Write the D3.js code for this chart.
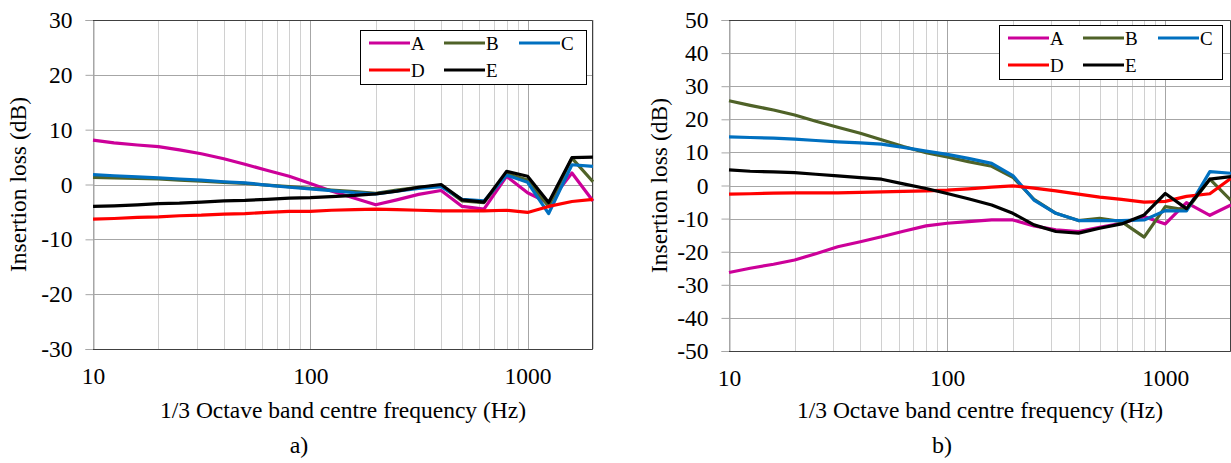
<!DOCTYPE html>
<html>
<head>
<meta charset="utf-8">
<style>
  body {
    margin: 0;
    background-color: #ffffff;
  }
</style>
  <script src="https://d3js.org/d3.v7.min.js"></script>
</head>
<body>
<script>
  // 1/3 octave band centre frequencies (Hz)
  const freqs = [10, 12.5, 16, 20, 25, 31.5, 40, 50, 63, 80, 100, 125, 160, 200,
    250, 315, 400, 500, 630, 800, 1000, 1250, 1600, 2000];

  const seriesNames = ['A', 'B', 'C', 'D', 'E'];

  // panel a) insertion loss (dB)
  const aA = [8.1, 7.6, 7.2, 6.9, 6.3, 5.6, 4.7, 3.7, 2.6, 1.5, 0.2, -1.2, -2.5, -3.7,
    -2.8, -1.8, -1.1, -4.0, -4.5, 1.5, -1.5, -3.4, 2.1, -3.0];
  const aB = [1.3, 1.2, 1.1, 1.0, 0.8, 0.6, 0.4, 0.2, -0.1, -0.4, -0.7, -1.0, -1.3, -1.6,
    -1.0, -0.5, -0.2, -3.0, -3.3, 2.0, 0.8, -4.0, 4.8, 0.5];
  const aC = [1.8, 1.6, 1.4, 1.2, 1.0, 0.8, 0.5, 0.3, -0.1, -0.5, -0.8, -1.1, -1.5, -1.7,
    -1.2, -0.7, -0.4, -2.7, -3.0, 1.7, 0.4, -5.3, 3.6, 3.3];
  const aD = [-6.3, -6.2, -6.0, -5.9, -5.7, -5.6, -5.4, -5.3, -5.1, -4.9, -4.9, -4.7, -4.6, -4.5,
    -4.6, -4.7, -4.8, -4.8, -4.8, -4.7, -5.1, -4.0, -3.1, -2.7];
  const aE = [-4.0, -3.9, -3.7, -3.5, -3.4, -3.2, -3.0, -2.9, -2.7, -2.5, -2.4, -2.2, -2.0, -1.7,
    -1.2, -0.5, 0.0, -2.8, -3.2, 2.4, 1.5, -3.3, 4.9, 5.0];

  // panel b) insertion loss (dB)
  const bA = [-26.3, -25.0, -23.8, -22.5, -20.6, -18.5, -17.0, -15.5, -13.8, -12.2, -11.4, -10.9, -10.4, -10.4,
    -12.2, -13.4, -13.9, -12.6, -11.4, -9.4, -11.6, -5.2, -9.0, -5.9];
  const bB = [25.6, 24.2, 22.8, 21.3, 19.4, 17.6, 15.8, 13.8, 11.8, 9.9, 8.6, 7.2, 5.8, 2.5,
    -4.2, -8.4, -10.6, -9.9, -10.9, -15.6, -6.4, -7.4, 1.9, -4.5];
  const bC = [14.7, 14.5, 14.3, 14.0, 13.6, 13.2, 12.9, 12.5, 11.5, 10.4, 9.4, 8.2, 6.7, 3.0,
    -4.4, -8.4, -10.6, -10.6, -10.6, -10.4, -7.6, -7.7, 4.2, 3.7];
  const bD = [-2.6, -2.5, -2.3, -2.2, -2.2, -2.2, -2.1, -1.9, -1.8, -1.6, -1.4, -1.0, -0.5, -0.1,
    -0.8, -1.6, -2.6, -3.5, -4.2, -5.0, -4.8, -3.3, -2.5, 2.2];
  const bE = [4.7, 4.3, 4.1, 3.9, 3.4, 2.9, 2.4, 1.9, 0.5, -0.9, -2.4, -4.0, -5.9, -8.4,
    -11.9, -13.9, -14.4, -12.9, -11.6, -8.9, -2.4, -7.0, 1.9, 2.7];

  const xTicks = [10, 100, 1000];
  const aYTicks = [-30, -20, -10, 0, 10, 20, 30];
  const bYTicks = [-50, -40, -30, -20, -10, 0, 10, 20, 30, 40, 50];

  const colors = {
    A: '#CC0099',
    B: '#4F6228',
    C: '#0070C0',
    D: '#FF0000',
    E: '#000000',
  };

  const FONT = 'Liberation Serif';
  const FONT_SIZE = 23.5;

  const svg = d3.select('body')
    .append('svg')
    .attr('width', 1231)
    .attr('height', 463);

  // gridline frequencies: 10..90, 100..900, 1000, 2000
  const gridFreqs = [];
  [10, 100, 1000].forEach(dec => {
    for (let k = 1; k <= 9; k++) {
      if (dec * k <= 2000) gridFreqs.push(dec * k);
    }
  });

  const drawPanel = (cfg) => {
    const { left, right, top, bottom, yDomain, yTicks, data, legend, ytitleX, label } = cfg;

    const x = d3.scaleLog().domain([10, 2000]).range([left, right]);
    const y = d3.scaleLinear().domain(yDomain).range([bottom, top]);

    const g = svg.append('g');

    // vertical grid
    g.selectAll('.vgrid')
      .data(gridFreqs)
      .enter()
      .append('line')
      .attr('x1', d => Math.round(x(d)) + 0.5)
      .attr('x2', d => Math.round(x(d)) + 0.5)
      .attr('y1', top)
      .attr('y2', bottom)
      .attr('stroke', d => xTicks.includes(d) ? '#a6a6a6' : '#d0d0d0')
      .attr('stroke-width', 1);

    // horizontal grid
    g.selectAll('.hgrid')
      .data(yTicks)
      .enter()
      .append('line')
      .attr('x1', left)
      .attr('x2', right)
      .attr('y1', d => Math.round(y(d)) + 0.5)
      .attr('y2', d => Math.round(y(d)) + 0.5)
      .attr('stroke', '#a6a6a6')
      .attr('stroke-width', 1);

    // y axis with outward ticks
    const yAxis = d3.axisLeft(y)
      .tickValues(yTicks)
      .tickSize(8)
      .tickPadding(13)
      .tickFormat(d => String(d));

    const ya = g.append('g')
      .attr('transform', `translate(${left + 0.5},0)`)
      .call(yAxis);
    ya.select('.domain').attr('stroke', '#a6a6a6');
    ya.selectAll('.tick line').attr('stroke', '#a6a6a6');
    ya.selectAll('.tick text')
      .attr('font-family', FONT)
      .attr('font-size', FONT_SIZE)
      .attr('fill', '#000');

    // x axis labels only
    const xAxis = d3.axisBottom(x)
      .tickValues(xTicks)
      .tickSize(0)
      .tickFormat(d => String(d));

    const xa = g.append('g')
      .attr('transform', `translate(0,${bottom})`)
      .call(xAxis);
    xa.select('.domain').remove();
    xa.selectAll('.tick text')
      .attr('y', 35)
      .attr('dy', null)
      .attr('font-family', FONT)
      .attr('font-size', FONT_SIZE)
      .attr('fill', '#000');

    // plot frame: top, right, bottom
    g.append('path')
      .attr('d', `M${left},${top + 0.5}H${right - 0.5}V${bottom + 0.5}H${left}`)
      .attr('fill', 'none')
      .attr('stroke', '#404040')
      .attr('stroke-width', 1);

    // series lines
    const line = d3.line()
      .x((d, i) => x(freqs[i]))
      .y(d => y(d));

    seriesNames.forEach((name, si) => {
      g.append('path')
        .datum(data[si])
        .attr('d', line)
        .attr('fill', 'none')
        .attr('stroke', colors[name])
        .attr('stroke-width', 3.2)
        .attr('stroke-linejoin', 'round');
    });

    // legend
    const lg = g.append('g');
    lg.append('rect')
      .attr('x', legend.x + 0.5)
      .attr('y', legend.y + 0.5)
      .attr('width', legend.w)
      .attr('height', legend.h)
      .attr('fill', '#fff')
      .attr('stroke', '#000')
      .attr('stroke-width', 1);

    seriesNames.forEach((name, i) => {
      const col = i % 3;
      const row = Math.floor(i / 3);
      const lx = legend.x + 9 + col * 75;
      const ly = legend.y + 13 + row * 27;
      lg.append('line')
        .attr('x1', lx)
        .attr('x2', lx + 41)
        .attr('y1', ly)
        .attr('y2', ly)
        .attr('stroke', colors[name])
        .attr('stroke-width', 3.2);
      lg.append('text')
        .attr('x', lx + 42)
        .attr('y', ly + 6.5)
        .attr('font-family', FONT)
        .attr('font-size', 19)
        .text(name);
    });

    // axis titles
    g.append('text')
      .attr('x', (left + right) / 2)
      .attr('y', 418)
      .attr('text-anchor', 'middle')
      .attr('font-family', FONT)
      .attr('font-size', FONT_SIZE)
      .text('1/3 Octave band centre frequency (Hz)');

    g.append('text')
      .attr('transform', `translate(${ytitleX},${(top + bottom) / 2}) rotate(-90)`)
      .attr('text-anchor', 'middle')
      .attr('font-family', FONT)
      .attr('font-size', FONT_SIZE)
      .text('Insertion loss (dB)');

    g.append('text')
      .attr('x', label.x)
      .attr('y', 453)
      .attr('text-anchor', 'middle')
      .attr('font-family', FONT)
      .attr('font-size', 24)
      .text(label.text);
  };

  drawPanel({
    left: 93, right: 593, top: 20, bottom: 349,
    yDomain: [-30, 30], yTicks: aYTicks,
    data: [aA, aB, aC, aD, aE],
    legend: { x: 360, y: 30, w: 226, h: 54 },
    ytitleX: 26,
    label: { x: 299, text: 'a)' },
  });

  drawPanel({
    left: 729, right: 1231, top: 20, bottom: 351,
    yDomain: [-50, 50], yTicks: bYTicks,
    data: [bA, bB, bC, bD, bE],
    legend: { x: 999, y: 25, w: 223, h: 54 },
    ytitleX: 667,
    label: { x: 942, text: 'b)' },
  });
</script>
</body>
</html>
